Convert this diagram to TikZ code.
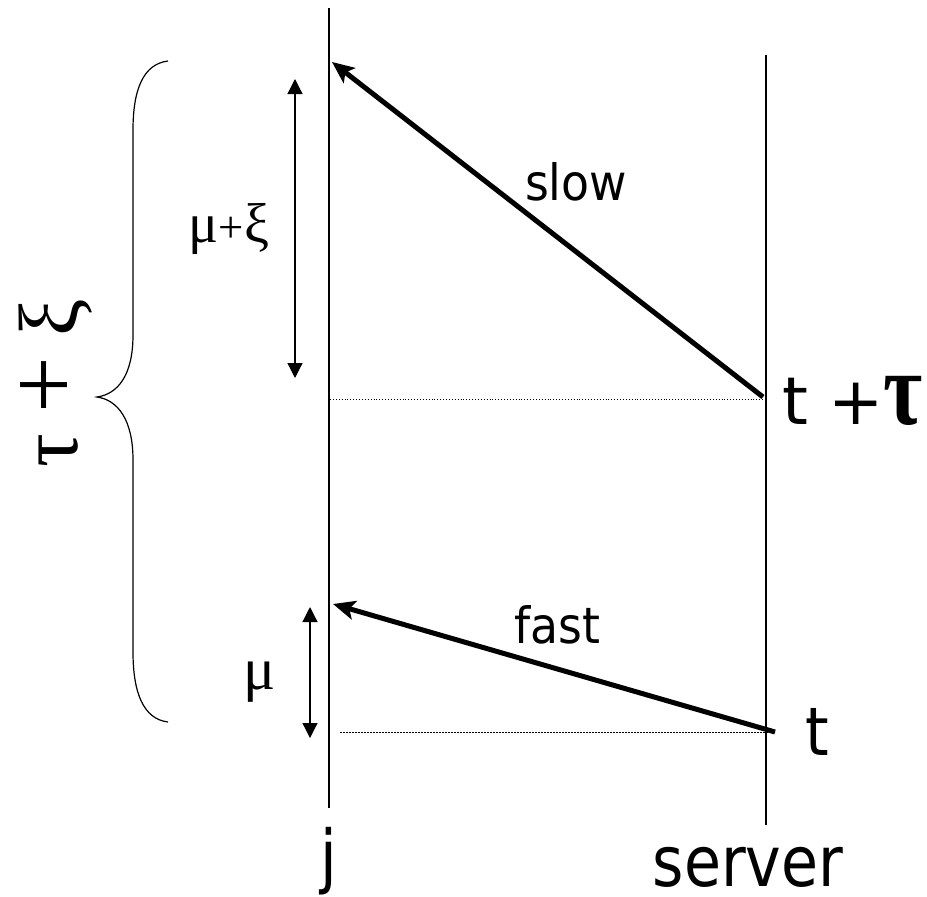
\documentclass[tikz,border=0pt]{standalone}
\usepackage{fontspec}
\usepackage{graphicx}
\setmainfont{DejaVu Sans}
\newfontfamily\gr{Liberation Serif}
\usetikzlibrary{arrows.meta}
\begin{document}
\begin{tikzpicture}[x=1pt,y=-1pt,
  lifeline/.style={line width=1.6pt},
  msg/.style={line width=5pt,-{Stealth[length=22pt,width=19pt,inset=5pt]}},
  span/.style={line width=1.2pt,{Triangle[length=15pt,width=15pt]}-{Triangle[length=15pt,width=15pt]}},
  guide/.style={line width=0.9pt,dotted},
  lbl/.style={inner sep=0pt,anchor=base},
]
\useasboundingbox (0,0) rectangle (927,897);
% lifelines
\coordinate (jtop) at (329,8);
\coordinate (jbot) at (329,808);
\coordinate (stop) at (766,55);
\coordinate (sbot) at (766,825);
\draw[lifeline] (jtop) -- (jbot);
\draw[lifeline,line width=1.3pt] (stop) -- (sbot);
% events
\coordinate (sslow) at (763,397);
\coordinate (jslow) at (332,62);
\coordinate (sfast) at (775,732);
\coordinate (jfast) at (333,604);
\coordinate (dsl) at (330,399);
\coordinate (dsr) at (763,399);
\coordinate (dfl) at (340,732);
\coordinate (dfr) at (775,732);
\draw[guide] (dsl) -- (dsr);
\draw[guide,line width=0.6pt,dash pattern=on 2pt off 1pt] (dfl) -- (dfr);
\draw[msg] (sslow) -- (jslow);
\draw[msg] (sfast) -- (jfast);
% spans
\coordinate (a1) at (295,79);
\coordinate (a2) at (295,378);
\coordinate (b1) at (310,607);
\coordinate (b2) at (310,738);
\draw[span] (a1) -- (a2);
\draw[span] (b1) -- (b2);
% brace
\draw[line width=1.2pt] (168,61) .. controls (143,64) and (133,90) .. (133,130)
  -- (133,335) .. controls (133,375) and (118,394) .. (97,397)
  .. controls (118,400) and (133,420) .. (133,460)
  -- (133,652) .. controls (133,692) and (143,719) .. (168,722);
% labels
\node[lbl,xscale=0.915,font=\fontsize{50}{55}\selectfont] (slow) at (576,200) {slow};
\node[lbl,xscale=0.915,font=\fontsize{50}{55}\selectfont] (fast) at (557,643) {fast};
\node[lbl,xscale=0.86,font=\fontsize{70}{75}\selectfont] (j) at (329,880) {j};
\node[lbl,xscale=0.86,font=\fontsize{70}{75}\selectfont] (server) at (748,886) {server};
\node[lbl,anchor=base west,xscale=0.9,font=\fontsize{67}{70}\selectfont] (t) at (805,755) {t};
\node[lbl,anchor=base west,font=\fontsize{66}{70}\selectfont] (ttau) at (782,424) {t\kern20pt+\kern0pt{\gr\bfseries\fontsize{100}{100}\selectfont\scalebox{0.85}[1.05]{τ}}};
\node[lbl,font=\gr\fontsize{56}{60}\selectfont] (muxi) at (229,242) {μ\scalebox{0.8}{+}ξ};
\node[lbl,font=\gr\fontsize{60}{65}\selectfont] (mu) at (260,689) {μ};
\node[lbl,rotate=90,font=\gr\fontsize{84}{86}\selectfont] (tauxi) at (77,383) {τ\kern20pt\scalebox{1.2}{+}\kern20pt ξ};
\end{tikzpicture}
\end{document}
